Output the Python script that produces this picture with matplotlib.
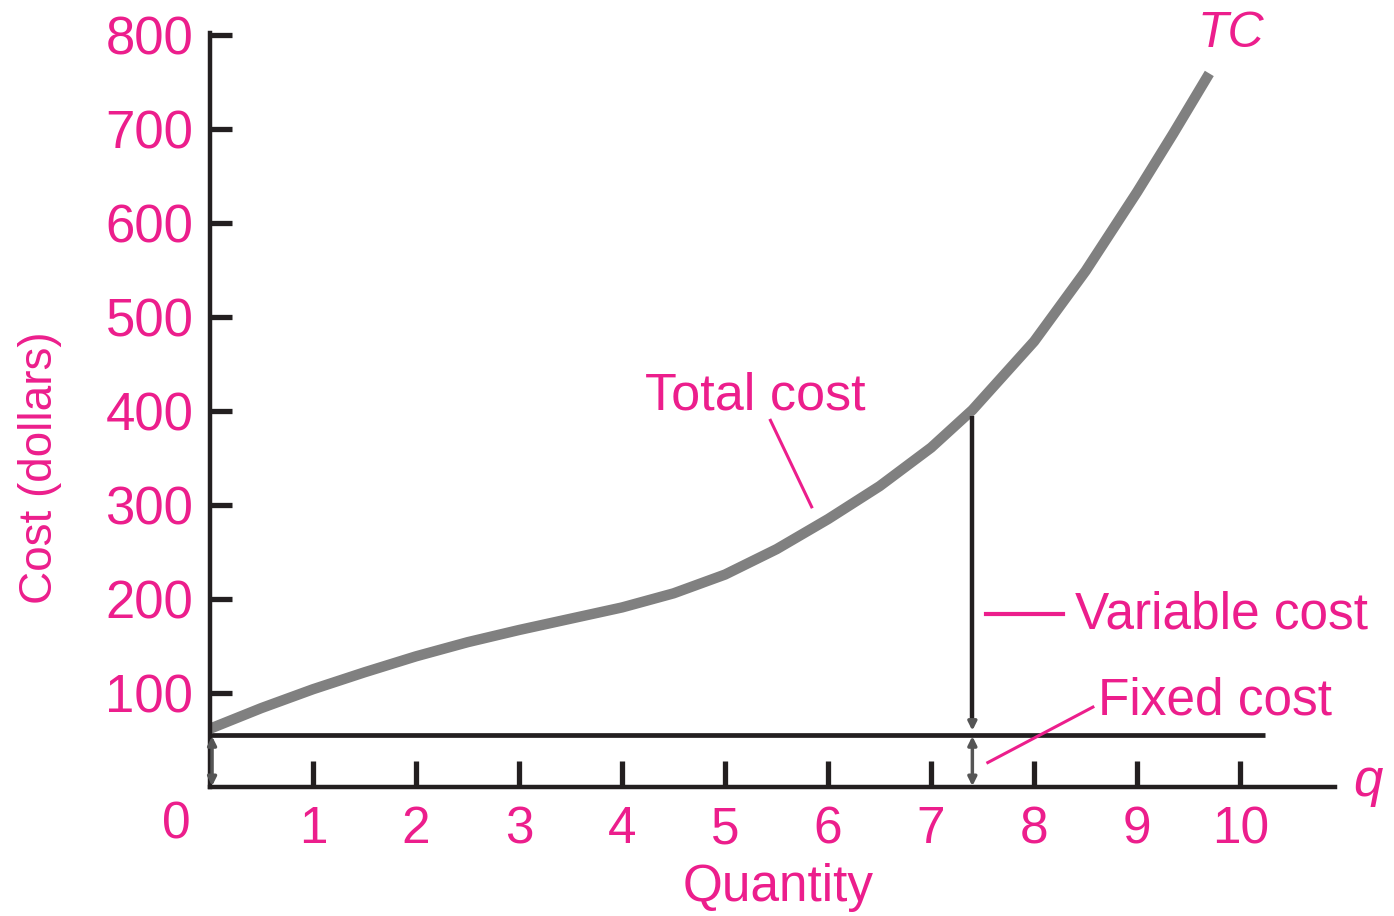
import matplotlib
matplotlib.use("Agg")
import matplotlib.pyplot as plt

# total cost curve
q = [0, 0.5, 1, 1.5, 2, 2.5, 3, 3.5, 4, 4.5, 5, 5.5, 6, 6.5, 7, 7.4, 8, 8.5, 9, 9.35, 9.7]
tc = [62, 84, 104, 122, 139, 154, 167, 179, 191, 206, 226, 253, 285, 320, 361, 401, 474, 549, 633, 695, 759]

fixed_cost = 55
q_mark = 7.4
x_ticks = [1, 2, 3, 4, 5, 6, 7, 8, 9, 10]
y_ticks = [100, 200, 300, 400, 500, 600, 700, 800]

pink = '#ec1e8c'
ink = '#231f20'
plt.rcParams['font.family'] = ['Liberation Sans', 'DejaVu Sans']

fig = plt.figure(figsize=(13.94, 9.16), dpi=100)
ax = fig.add_axes([210/1394, 129/916, 1125/1394, 754/916])
ax.set_xlim(0, 10.92)
ax.set_ylim(0, 802)

for s in ['top', 'right']:
    ax.spines[s].set_visible(False)
for s in ['left', 'bottom']:
    ax.spines[s].set_color(ink)
    ax.spines[s].set_linewidth(3.2)

ax.set_xticks(x_ticks)
ax.set_yticks(y_ticks)
ax.tick_params(axis='x', direction='in', length=19, width=3.8, color=ink,
               labelsize=37, labelcolor=pink, pad=13)
ax.tick_params(axis='y', direction='in', length=16, width=3.8, color=ink,
               labelsize=38, labelcolor=pink, pad=12)

# fixed cost line
ax.plot([0, 10.24], [fixed_cost, fixed_cost], color=ink, lw=3.4, solid_capstyle='butt', clip_on=False)

# total cost curve
ax.plot(q, tc, color='#808080', lw=7.5, solid_capstyle='butt', solid_joinstyle='round', clip_on=False)

# variable cost bracket
ax.plot([q_mark, q_mark], [395, fixed_cost + 14], color=ink, lw=3.2, solid_capstyle='butt')
ax.annotate('', xy=(q_mark, fixed_cost + 2), xytext=(q_mark, fixed_cost + 18),
            arrowprops=dict(arrowstyle='-|>,head_length=0.5,head_width=0.25', color='#555555', lw=2.5))
for xq in [0.02, q_mark]:
    ax.annotate('', xy=(xq, 1), xytext=(xq, fixed_cost - 1),
                arrowprops=dict(arrowstyle='<|-|>,head_length=0.5,head_width=0.25', color='#555555',
                                lw=2.5, shrinkA=0, shrinkB=0), annotation_clip=False)

# pink leaders
ax.plot([7.53, 8.28], [184, 184], color=pink, lw=3)
ax.plot([7.55, 8.57], [26, 85], color=pink, lw=2.2)
ax.plot([5.44, 5.84], [390, 298], color=pink, lw=2.2)

# labels
ax.text(4.22, 416, 'Total cost', color=pink, fontsize=37.5, va='center', ha='left')
ax.text(8.40, 183, 'Variable cost', color=pink, fontsize=37, va='center', ha='left')
ax.text(8.62, 92, 'Fixed cost', color=pink, fontsize=37, va='center', ha='left')
ax.text(9.91, 801, 'TC', color=pink, fontsize=36, style='italic', va='center', ha='center', clip_on=False)
ax.text(11.24, 5, 'q', color=pink, fontsize=38, style='italic', va='center', ha='center', clip_on=False)

fig.text(176/1394, 1 - 825/916, '0', color=pink, fontsize=37, ha='center', va='center')
fig.text(778/1394, 1 - 888/916, 'Quantity', color=pink, fontsize=37, ha='center', va='center')
fig.text(40/1394, 1 - 468/916, 'Cost (dollars)', color=pink, fontsize=33, ha='center', va='center', rotation=90)

fig.savefig('out.png', dpi=100)
